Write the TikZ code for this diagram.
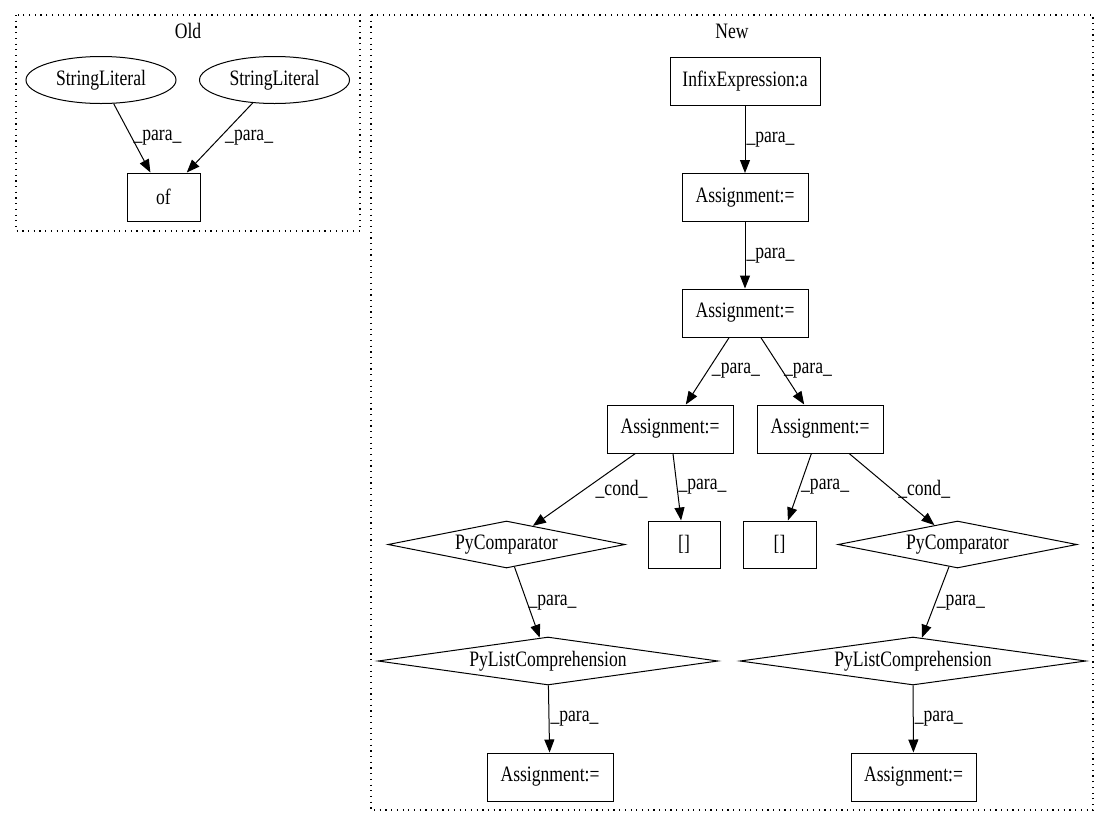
\documentclass[tikz,border=0pt]{standalone}
\usepackage{fontspec}
\setmainfont[FakeStretch=0.8]{Liberation Serif}
\usetikzlibrary{shapes.geometric,arrows.meta}

\begin{document}
\begin{tikzpicture}[x=1pt,y=-1pt,
    font=\fontsize{22}{26}\selectfont,
    box/.style={draw,line width=1pt,rectangle,inner sep=0pt,minimum height=48pt},
    lit/.style={draw,line width=1pt,ellipse,inner sep=0pt,minimum width=150pt,minimum height=47pt},
    cmp/.style={draw,line width=1pt,diamond,aspect=6,inner sep=0pt,minimum height=47pt},
    edge/.style={line width=1pt,-{Triangle[length=13pt,width=10pt]}},
    elabel/.style={anchor=west,inner sep=1pt},
    cluster/.style={line width=1.1pt,dash pattern=on 1.2pt off 4.5pt}]
    \useasboundingbox (0,0) rectangle (1109,828);

    % Old
    \draw[cluster] (16,15) rectangle (360,231);
    \node (oldtitle) at (188,31) {Old};
    \node[lit] (lit1) at (101,80) {StringLiteral};
    \node[lit] (lit2) at (274.5,80) {StringLiteral};
    \node[box,minimum width=73pt] (of) at (163.5,197) {of};
    \draw[edge] (lit1) -- node[elabel] {\_para\_} (of);
    \draw[edge] (lit2) -- node[elabel,xshift=4pt] {\_para\_} (of);

    % New
    \draw[cluster] (371,15) rectangle (1093,810);
    \node (newtitle) at (732,31) {New};
    \node[box,minimum width=150pt] (infix) at (745,81) {InfixExpression:a};
    \node[box,minimum width=126pt] (asg1) at (745,197.5) {Assignment:=};
    \node[box,minimum width=126pt] (asg2) at (745,313) {Assignment:=};
    \node[box,minimum width=126pt] (asg3) at (670,429) {Assignment:=};
    \node[box,minimum width=126pt] (asg4) at (820,429) {Assignment:=};
    \node[cmp,minimum width=237pt] (cmp1) at (506.5,544.5) {PyComparator};
    \node[box,minimum width=72pt,minimum height=47pt] (sub1) at (684,544.5) {[]};
    \node[box,minimum width=73pt,minimum height=47pt] (sub2) at (779.5,544.5) {[]};
    \node[cmp,minimum width=239pt] (cmp2) at (957.5,544.5) {PyComparator};
    \node[cmp,minimum width=340pt,minimum height=48pt] (lc1) at (548,661) {PyListComprehension};
    \node[cmp,minimum width=346pt,minimum height=48pt] (lc2) at (913,661) {PyListComprehension};
    \node[box,minimum width=126pt] (asg5) at (550,777) {Assignment:=};
    \node[box,minimum width=125pt] (asg6) at (913.5,777) {Assignment:=};

    \draw[edge] (infix) -- node[elabel] {\_para\_} (asg1);
    \draw[edge] (asg1) -- node[elabel] {\_para\_} (asg2);
    \draw[edge] (asg2) -- node[elabel,xshift=3pt] {\_para\_} (asg3);
    \draw[edge] (asg2) -- node[elabel] {\_para\_} (asg4);
    \draw[edge] (asg3) -- node[elabel,xshift=10pt] {\_cond\_} (cmp1);
    \draw[edge] (asg3) -- node[elabel] {\_para\_} (sub1);
    \draw[edge] (asg4) -- node[elabel] {\_para\_} (sub2);
    \draw[edge] (asg4) -- node[elabel,xshift=5pt] {\_cond\_} (cmp2);
    \draw[edge] (cmp1) -- node[elabel] {\_para\_} (lc1);
    \draw[edge] (cmp2) -- node[elabel] {\_para\_} (lc2);
    \draw[edge] (lc1) -- node[elabel] {\_para\_} (asg5);
    \draw[edge] (lc2) -- node[elabel] {\_para\_} (asg6);
\end{tikzpicture}
\end{document}
